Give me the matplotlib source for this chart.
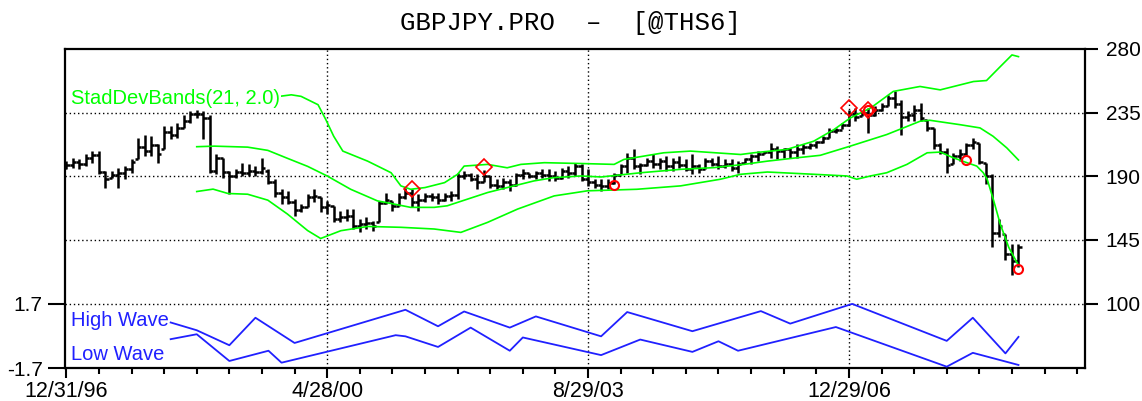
import numpy as np
import matplotlib
matplotlib.use("Agg")
import matplotlib.pyplot as plt

plt.rcParams["font.family"] = ["Liberation Sans", "DejaVu Sans"]

# monthly bars, bar index 0 = 12/31/96
highs = [200.8, 203.1, 202.0, 205.5, 207.8, 207.8, 193.7, 193.7, 196.1, 197.3,
         202.0, 217.2, 219.5, 218.4, 212.5, 225.4, 225.4, 227.7, 233.6, 236.4,
         237.1, 236.4, 233.6, 205.5, 203.1, 193.7, 194.9, 199.6, 198.4, 197.3,
         203.1, 194.9, 187.9, 180.9, 179.7, 173.8, 170.3, 177.3, 180.9, 175.0,
         172.7, 169.2, 165.6, 166.8, 166.8, 159.8, 161.0, 158.6, 172.7, 178.5,
         172.7, 178.5, 182.0, 180.9, 177.4, 178.5, 178.5, 178.5, 178.5, 179.7,
         192.6, 193.8, 192.6, 191.4, 194.5, 190.2, 187.9, 189.1, 187.9, 192.6,
         194.9, 192.6, 193.8, 194.9, 194.9, 193.7, 196.1, 197.3, 199.6, 198.4,
         194.9, 187.9, 187.9, 187.9, 192.6, 198.4, 206.6, 209.0, 199.6, 203.1,
         205.5, 203.1, 204.3, 203.1, 204.3, 202.0, 205.5, 198.4, 203.1, 203.1,
         204.3, 202.0, 202.0, 200.8, 203.1, 205.5, 207.8, 207.8, 213.7, 211.3,
         210.2, 210.2, 212.5, 212.5, 213.7, 214.9, 218.4, 224.2, 224.2, 227.7,
         237.1, 238.3, 237.1, 238.3, 239.5, 241.8, 247.7, 250.0, 244.2, 235.9,
         240.6, 241.8, 230.1, 224.2, 213.7, 210.2, 206.6, 209.0, 213.7, 217.2,
         213.7, 199.6, 191.4, 159.8, 149.2, 142.2, 142.2]
lows = [194.9, 196.1, 194.9, 197.3, 199.6, 191.4, 182.0, 189.0, 182.0, 187.9,
        192.6, 202.0, 204.3, 204.3, 199.6, 209.0, 216.0, 217.2, 224.2, 227.7,
        231.3, 216.0, 192.6, 191.4, 189.0, 177.3, 189.0, 190.2, 190.2, 190.2,
        191.4, 184.4, 175.0, 170.3, 170.3, 162.1, 164.4, 168.0, 171.5, 164.5,
        163.3, 157.4, 157.4, 158.6, 152.7, 150.4, 152.7, 151.6, 157.4, 170.3,
        165.6, 169.2, 173.8, 168.0, 165.6, 171.5, 172.7, 170.3, 172.7, 172.7,
        173.8, 187.9, 186.7, 180.9, 185.6, 182.0, 180.9, 180.9, 179.7, 183.2,
        187.9, 189.1, 187.9, 189.1, 186.7, 186.7, 187.9, 189.1, 190.2, 186.7,
        183.2, 182.0, 179.7, 180.9, 184.4, 191.4, 192.6, 194.9, 191.4, 197.3,
        196.1, 194.9, 193.8, 193.8, 196.1, 193.8, 191.4, 192.6, 194.9, 197.3,
        194.9, 196.1, 193.8, 192.6, 199.6, 198.4, 200.8, 205.5, 203.1, 202.0,
        203.1, 203.1, 203.1, 205.5, 209.0, 210.2, 213.7, 217.2, 220.7, 223.1,
        225.4, 228.9, 232.4, 220.7, 232.4, 236.0, 239.5, 238.3, 219.5, 228.9,
        228.9, 228.9, 221.9, 209.0, 205.5, 192.6, 198.4, 200.8, 204.3, 209.0,
        198.4, 184.4, 139.8, 146.9, 130.5, 119.9, 125.8]
opens = [196, 198, 200, 199, 203, 205, 193, 189, 191, 192,
         195, 202, 211, 208, 212, 209, 221, 219, 224, 229,
         234, 234, 231, 194, 203, 193, 190, 193, 192, 194,
         193, 194, 186, 178, 175, 172, 166, 168, 175, 175,
         168, 169, 160, 161, 162, 155, 156, 157, 157.4, 171,
         172.7, 169.2, 175, 178, 172, 173, 176, 175, 173, 176,
         177, 190, 191, 188, 186, 190, 184, 183, 186, 184,
         191, 192, 190, 192, 191, 190, 189, 194, 192, 197,
         188, 186, 184, 183, 185, 191, 197, 203, 197, 198,
         201, 199, 201, 197, 200, 198, 195, 197, 195, 201,
         199, 197, 199, 196, 199.6, 202, 204, 206, 207, 209,
         208, 209, 207, 209, 211, 212, 214, 217, 222, 223,
         226, 234, 232.4, 235, 233, 237, 240, 245, 241, 232,
         233, 237, 230, 224, 212, 207, 198.4, 204, 206, 212,
         213.7, 199.6, 190, 150, 149.2, 135, 130]
closes = [198, 200, 199, 203, 205, 193, 188, 191, 192, 195,
          200, 211, 208, 212, 206, 221, 219, 224, 229, 234,
          234, 231, 194, 203, 193, 190, 193, 192, 194, 193,
          196, 186, 178, 175, 172, 166, 168, 175, 176, 168,
          170, 160, 161, 162, 155, 156, 157, 155, 171, 173,
          169, 175, 178, 172, 173, 176, 175, 173, 176, 177,
          190, 191, 188, 186, 190, 184, 183, 186, 184, 191,
          192, 190, 192, 191, 190, 189, 194, 192, 197, 188,
          186, 184, 183, 185, 191, 197, 203, 197, 198, 201,
          199, 201, 197, 200, 198, 195, 197, 195, 201, 199,
          197, 199, 196, 199, 202, 204, 206, 207, 209, 208,
          209, 207, 209, 211, 212, 214, 217, 222, 223, 226,
          234, 232, 235, 233, 237, 240, 245, 241, 232, 233,
          237, 231, 224, 212, 207, 198, 204, 206, 212, 214,
          200, 190, 150, 155, 135, 130, 140]

# StadDevBands(21, 2.0)
upper_x = [20, 22.5, 25, 28, 31, 34.5, 36, 38.6, 39.8, 41, 42.4, 46.2, 49.8, 51.3,
           52.8, 55, 58, 60, 61, 64.6, 67.6, 69.7, 73.3, 79, 84, 85.5, 91.6, 95.7,
           103.4, 105.4, 110.5, 114.6, 117.7, 120.2, 123.3, 126.8, 130.9, 134,
           139.1, 141.1, 143.2, 145, 146]
upper_y = [242.6, 241.7, 243.5, 244.5, 245.5, 247.6, 246.5, 240.6, 230.0, 218.3,
           207.8, 200.7, 192.5, 183.2, 180.8, 182.0, 185.5, 191.4, 197.2, 198.4,
           196.0, 198.4, 199.6, 199.0, 198.4, 201.9, 206.6, 207.8, 205.4, 206.6,
           209.0, 214.8, 223.0, 231.2, 238.2, 250.0, 253.5, 251.1, 257.0, 257.7,
           267.5, 275.8, 274.6]
mid_x = [20, 22.7, 27.8, 30.9, 33.9, 37, 40, 43.6, 47.7, 50.3, 52.8, 56.4, 58.4,
         61.5, 64.6, 67.6, 71.7, 74.7, 78.9, 82, 88.1, 94.2, 99.3, 103.9, 107.5,
         112.1, 115.6, 120.2, 125.8, 130.9, 132.4, 137, 140.1, 142.1, 144.2, 146]
mid_y = [210.9, 211.3, 210.6, 208.3, 202.7, 197.0, 190.2, 180.8, 172.6, 170.3,
         168.0, 168.0, 169.1, 173.8, 178.5, 182.0, 186.7, 189.0, 190.2, 189.5,
         192.5, 194.9, 196.1, 198.4, 200.7, 203.1, 204.8, 211.3, 219.5, 228.9,
         229.6, 226.5, 224.2, 218.3, 210.1, 201.5]
lower_x = [20, 22.5, 24.8, 27.8, 30.9, 33.9, 37, 39, 42.1, 46.2, 51.3, 56.4, 60.5,
           64.6, 69.2, 74.8, 79.9, 87.5, 94.2, 100.3, 103.4, 107.5, 114.6, 119.7,
           121.2, 123.3, 125.8, 128.9, 132, 134, 136, 138.1, 139.6, 140.6, 141.2,
           142.2, 143.2, 144.5, 146]
lower_y = [179.2, 180.9, 177.8, 177.3, 173.1, 163.3, 151.6, 146.0, 151.5, 154.5,
           153.9, 152.7, 150.3, 157.4, 166.8, 176.1, 179.7, 180.8, 183.2, 187.9,
           191.4, 193.0, 191.4, 190.2, 187.9, 190.2, 192.5, 198.4, 206.6, 207.1,
           203.1, 199.6, 197.2, 192.5, 187.9, 172.7, 156.3, 139.8, 127.0]

# signal markers
diamond_x = [53, 64, 120, 123]
diamond_y = [180.9, 196.2, 238.5, 237.1]
circle_x = [84, 123, 138, 146]
circle_y = [183.7, 237.1, 201.3, 124.2]

# lower indicator
high_wave_x = [16, 20, 25, 29, 35, 52, 57, 61, 68, 72, 82, 86, 96, 106.5, 111,
               120.5, 135, 139, 144, 146]
high_wave_y = [0.70, 0.29, -0.50, 0.95, -0.38, 1.37, 0.50, 1.28, 0.43, 1.02,
               -0.03, 1.25, 0.24, 1.30, 0.64, 1.68, -0.27, 0.95, -0.93, -0.06]
low_wave_x = [16, 20, 25, 31, 33, 50.5, 52, 57, 62, 68, 70, 82, 88, 96, 100, 103,
              118, 135, 139, 146]
low_wave_y = [-0.18, 0.08, -1.33, -0.79, -1.42, 0.03, -0.03, -0.59, 0.43, -0.79,
              -0.09, -1.02, -0.20, -0.85, -0.29, -0.79, 0.46, -1.63, -0.90, -1.54]

tick_bars = [0, 40, 80, 120]
tick_labels = ["12/31/96", "4/28/00", "8/29/03", "12/29/06"]
price_ticks = [100, 145, 190, 235, 280]
wave_ticks = [-1.7, 1.7]

W, H = 1142, 401
fig = plt.figure(figsize=(W / 100, H / 100), dpi=100)
ax = fig.add_axes([65 / W, 33 / H, 1020 / W, 319 / H])

green = "#00ff00"
blue = "#2020ff"
dots = (0, (1, 2))

# grid
for yv in price_ticks[:-1]:
    ax.axhline(yv, color="black", lw=1.0, ls=dots, zorder=0.5)
for xv in tick_bars[1:]:
    ax.axvline(xv, color="black", lw=1.0, ls=dots, zorder=0.5)

# OHLC bars
idx = np.arange(len(highs))
ax.vlines(idx, lows, highs, color="black", lw=1.8, zorder=2)
ax.hlines(opens, idx - 0.5, idx, color="black", lw=1.8, zorder=2)
ax.hlines(closes, idx, idx + 0.5, color="black", lw=1.8, zorder=2)

# bands
for bx, by in [(upper_x, upper_y), (mid_x, mid_y), (lower_x, lower_y)]:
    ax.plot(bx, by, color=green, lw=1.2, zorder=3)

ax.plot(diamond_x, diamond_y, ls="none", marker="D", ms=8, mfc="none",
        mec="red", mew=1.2, zorder=4)
ax.plot(circle_x, circle_y, ls="none", marker="o", ms=6.5, mfc="none",
        mec="red", mew=1.5, zorder=4)

ax.set_xlim(-0.2, 156.2)
ax.set_ylim(54.4, 280)
ax.set_xticks(tick_bars)
ax.set_xticklabels(tick_labels)
ax.set_xticks(range(0, 157, 5), minor=True)
ax.tick_params(axis="x", which="major", length=7.5, width=1.5, pad=2,
               labelsize=15.5, direction="out")
ax.tick_params(axis="x", which="minor", length=4, width=1.5, direction="out")
for sp in ax.spines.values():
    sp.set_linewidth(1.6)
    sp.set_color("black")

# wave panel on its own scale
ax2 = ax.twinx()
ax2.plot(high_wave_x, high_wave_y, color=blue, lw=1.3)
ax2.plot(low_wave_x, low_wave_y, color=blue, lw=1.3)
ax2.set_ylim(-1.7, 15.12)
ax2.yaxis.tick_left()
ax2.yaxis.set_label_position("left")
ax2.set_yticks(wave_ticks)
ax2.set_yticklabels(["-1.7", "1.7"])
ax2.tick_params(axis="y", length=12, width=1.5, pad=4, labelsize=15)
for sp in ax2.spines.values():
    sp.set_visible(False)

# price scale on the right (after twinx, which moves it)
ax.yaxis.tick_right()
ax.yaxis.set_label_position("right")
ax.set_yticks(price_ticks)
ax.set_yticklabels([str(v) for v in price_ticks])
ax.tick_params(axis="y", which="major", length=9, width=1.5, pad=6,
               labelsize=15, direction="out", left=False, labelleft=False,
               right=True, labelright=True)

# labels
fig.text(71 / W, 1 - 98 / H, "StadDevBands(21, 2.0)", color=green, fontsize=14.5,
         ha="left", va="center",
         bbox=dict(facecolor="white", edgecolor="none", pad=0.5))
fig.text(71 / W, 1 - 321 / H, "High Wave", color=blue, fontsize=14.5,
         ha="left", va="center",
         bbox=dict(facecolor="white", edgecolor="none", pad=0.5))
fig.text(71 / W, 1 - 354 / H, "Low Wave", color=blue, fontsize=14.5,
         ha="left", va="center",
         bbox=dict(facecolor="white", edgecolor="none", pad=0.5))

fig.text(570 / W, 1 - 23 / H, "GBPJPY.PRO  \u2013  [@THS6]", family="Liberation Mono",
         fontsize=18.5, ha="center", va="center")

fig.savefig("out.png", dpi=100)
